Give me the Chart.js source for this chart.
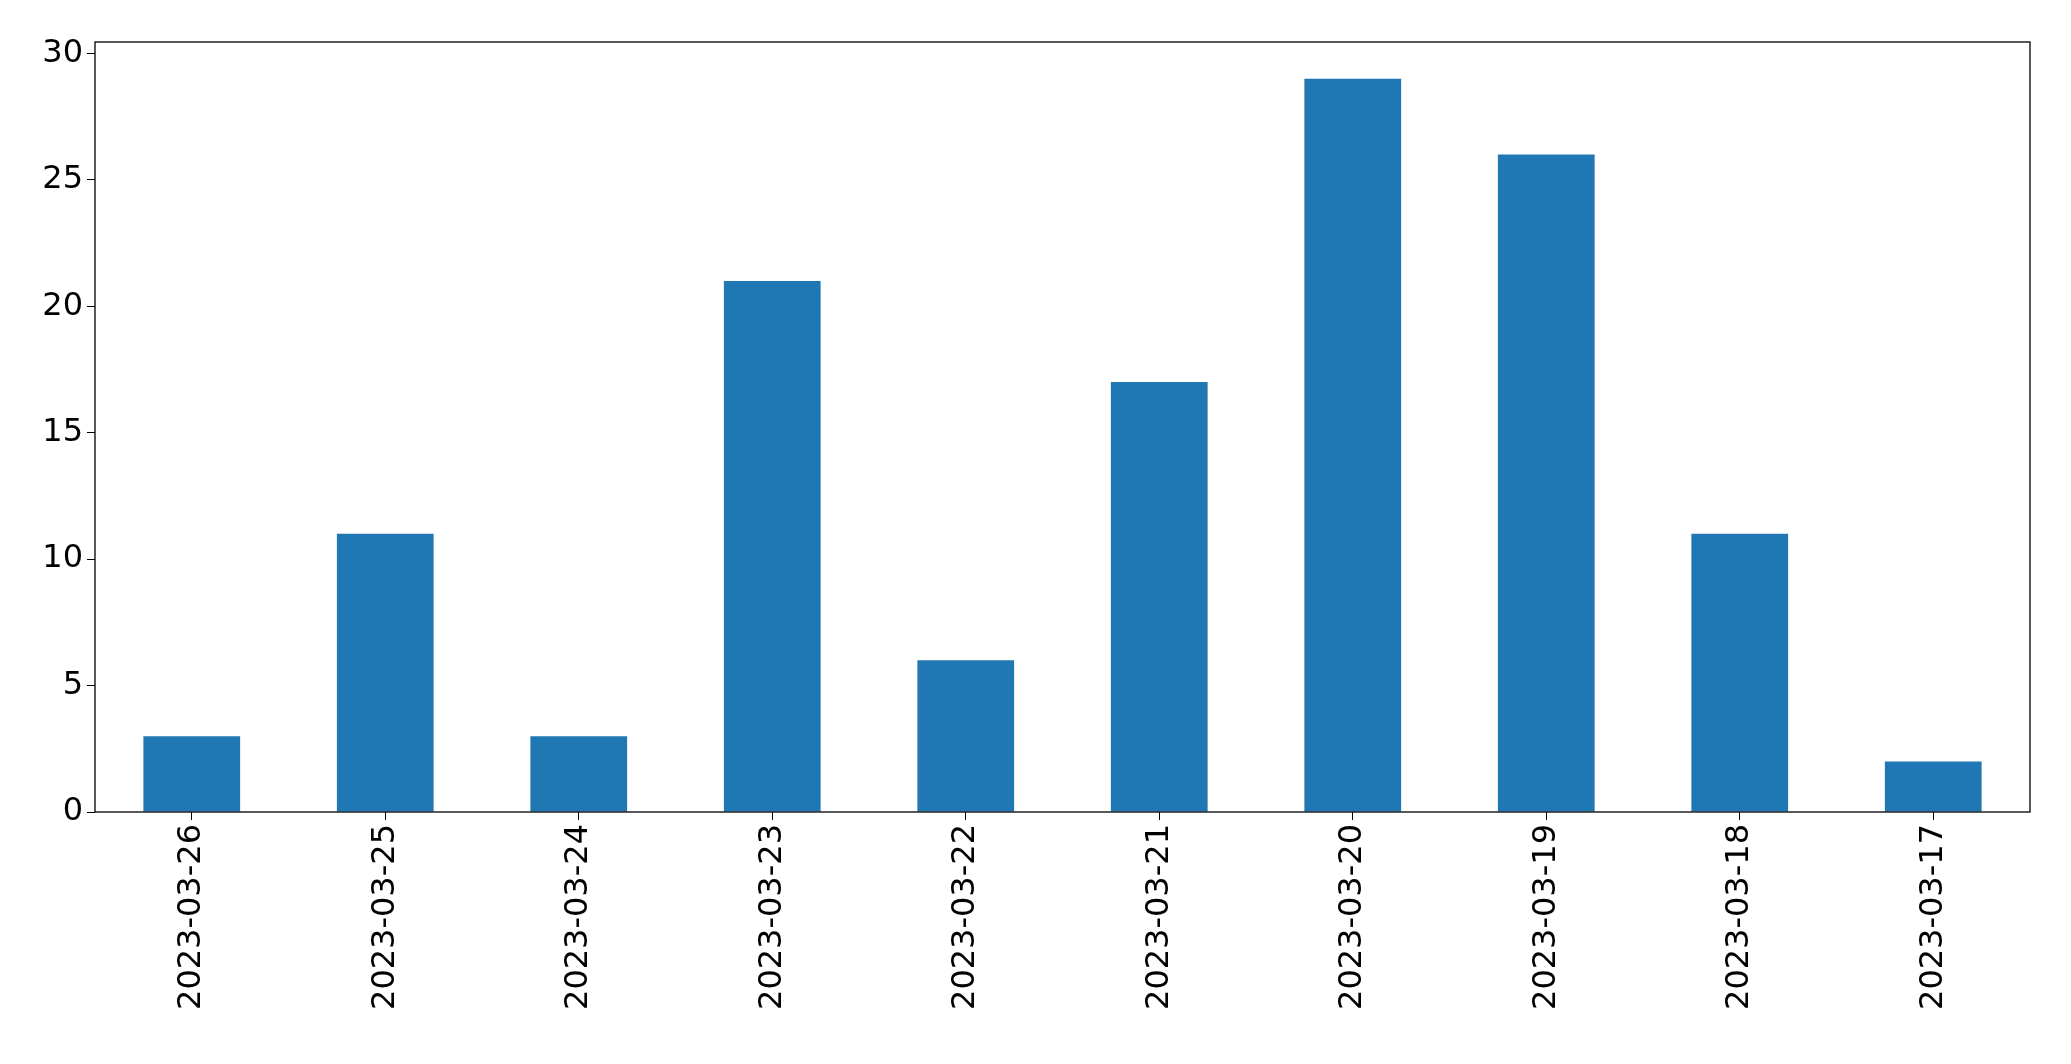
<!DOCTYPE html>
<html>
<head>
<meta charset="utf-8">
<script src="https://cdn.jsdelivr.net/npm/chart.js@4"></script>
<style>
  html, body { margin: 0; padding: 0; background: #fff; }
  #wrap { width: 2071px; height: 1064px; }
</style>
</head>
<body>
<div id="wrap"><canvas id="chart"></canvas></div>
<script>
  // data
  const dates = ["2023-03-26", "2023-03-25", "2023-03-24", "2023-03-23", "2023-03-22",
                 "2023-03-21", "2023-03-20", "2023-03-19", "2023-03-18", "2023-03-17"];
  const counts = [3, 11, 3, 21, 6, 17, 29, 26, 11, 2];
  const yTicks = [0, 5, 10, 15, 20, 25, 30];

  // box around the plot area, like matplotlib spines
  const frame = {
    id: 'frame',
    afterDraw(chart) {
      const a = chart.chartArea, ctx = chart.ctx;
      ctx.save();
      ctx.strokeStyle = '#000';
      ctx.lineWidth = 1.3;
      ctx.strokeRect(a.left, a.top, a.right - a.left, a.bottom - a.top);
      ctx.restore();
    }
  };

  const font = { family: 'DejaVu Sans', size: 32 };

  new Chart(document.getElementById('chart'), {
    type: 'bar',
    data: {
      labels: dates,
      datasets: [{
        data: counts,
        backgroundColor: '#1f77b4',
        barPercentage: 0.5,
        categoryPercentage: 1.0
      }]
    },
    options: {
      responsive: true,
      maintainAspectRatio: false,
      animation: false,
      layout: { padding: { top: 42, right: 41, left: 0, bottom: 0 } },
      plugins: { legend: { display: false }, tooltip: { enabled: false } },
      scales: {
        x: {
          offset: true,
          grid: { display: true, drawOnChartArea: false, drawTicks: true, tickLength: 8, color: '#000', offset: false },
          border: { display: false },
          ticks: { color: '#000', font: font, maxRotation: 90, minRotation: 90, padding: 4 },
          afterFit(s) { s.height = 252; }
        },
        y: {
          min: 0,
          max: 30.45,
          afterBuildTicks(s) { s.ticks = yTicks.map(v => ({ value: v })); },
          grid: { display: true, drawOnChartArea: false, drawTicks: true, tickLength: 8, color: '#000' },
          border: { display: false },
          ticks: { color: '#000', font: font, padding: 4 },
          afterFit(s) { s.width = 95; }
        }
      }
    },
    plugins: [frame]
  });
</script>
</body>
</html>
